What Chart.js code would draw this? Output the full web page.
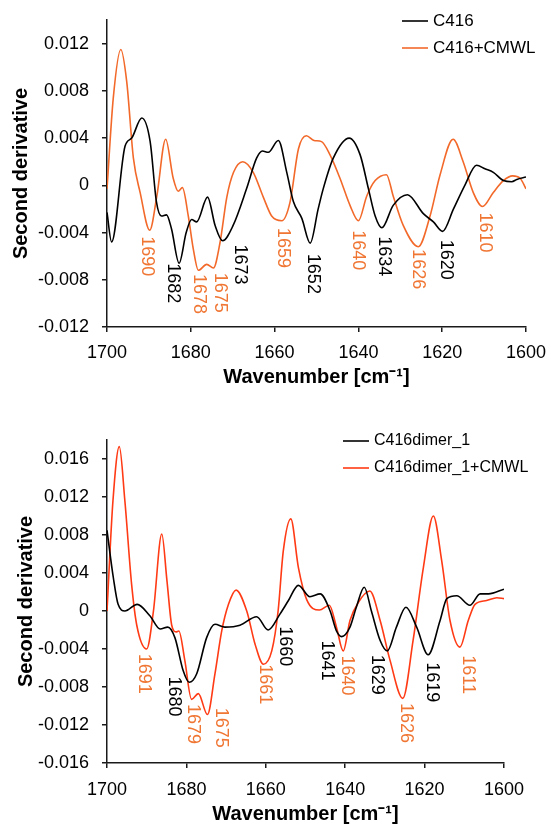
<!DOCTYPE html>
<html>
<head>
	<title>Second derivative</title>
	<meta charset="utf-8"/>
	<script src="https://cdn.jsdelivr.net/npm/chart.js"></script>
	<style>
		body { margin: 0; overflow: hidden; background: #fff; }
		canvas { position: absolute; left: 0; }
	</style>
</head>
<body>
	<canvas id="topChart" width="551" height="400" style="top:0px"></canvas>
	<canvas id="bottomChart" width="551" height="416" style="top:410px"></canvas>

<script>
// ---- data ----
var xTicks = [1700, 1680, 1660, 1640, 1620, 1600];
var topYTicks = [-0.012, -0.008, -0.004, 0, 0.004, 0.008, 0.012];
var bottomYTicks = [-0.016, -0.012, -0.008, -0.004, 0, 0.004, 0.008, 0.012, 0.016];

var topLabels = ['C416', 'C416+CMWL'];
var bottomLabels = ['C416dimer_1', 'C416dimer_1+CMWL'];

var c416Wn = [1700, 1698.9, 1695.7, 1694.1, 1691.7, 1689.7, 1688.2, 1687.0, 1685.8, 1684.6, 1682.8, 1681.1, 1679.8, 1678.6, 1676.0, 1674.2, 1672.4, 1669.9, 1666.7, 1664.3, 1662.9, 1661.5, 1659.1, 1657.1, 1655.5, 1653.5, 1651.5, 1649.6, 1648.4, 1646.0, 1642.2, 1639.6, 1637.6, 1636.0, 1634.4, 1631.7, 1628.3, 1624.5, 1622.1, 1619.9, 1617.3, 1614.6, 1611.8, 1609.8, 1607.8, 1605.4, 1603.4, 1602.2, 1600];
var c416Val = [-0.0023, -0.0048, 0.0033, 0.0040, 0.0057, 0.0037, -0.0014, -0.0026, -0.0025, -0.0037, -0.0066, -0.0040, -0.0029, -0.0031, -0.0010, -0.0034, -0.0047, -0.0034, -0.0003, 0.0023, 0.0029, 0.0028, 0.0038, 0.0011, -0.0014, -0.0028, -0.0049, -0.0020, -0.0003, 0.0023, 0.0040, 0.0026, -0.0003, -0.0026, -0.0036, -0.0017, -0.0008, -0.0024, -0.0031, -0.0039, -0.0020, 0.0000, 0.0017, 0.0014, 0.0011, 0.0004, 0.0003, 0.0005, 0.0007];

var c416CmwlWn = [1700, 1698.5, 1696.7, 1695.3, 1693.7, 1692.1, 1689.8, 1688.1, 1686.0, 1684.2, 1683.0, 1682.0, 1680.6, 1679.4, 1678.2, 1676.2, 1674.6, 1673.0, 1671.4, 1669.8, 1667.6, 1665.1, 1662.7, 1660.7, 1658.3, 1656.3, 1654.3, 1652.4, 1650.6, 1648.8, 1646.8, 1644.4, 1642.0, 1640.0, 1638.0, 1636.0, 1633.3, 1631.7, 1629.3, 1625.7, 1622.9, 1620.5, 1617.4, 1615.0, 1612.6, 1610.4, 1607.8, 1605.4, 1603.2, 1601.4, 1600];
var c416CmwlVal = [-0.0003, 0.0074, 0.0115, 0.0088, 0.0023, -0.0006, -0.0038, -0.0009, 0.0039, 0.0006, -0.0005, -0.0002, -0.0026, -0.0054, -0.0072, -0.0067, -0.0070, -0.0048, -0.0010, 0.0011, 0.0020, 0.0011, -0.0010, -0.0026, -0.0030, -0.0014, 0.0031, 0.0042, 0.0038, 0.0037, 0.0026, 0.0006, -0.0017, -0.0030, -0.0009, 0.0004, 0.0009, -0.0009, -0.0034, -0.0052, -0.0026, 0.0009, 0.0039, 0.0020, -0.0006, -0.0018, -0.0006, 0.0004, 0.0008, 0.0006, -0.0003];

var dimerWn = [1700, 1698.4, 1697.2, 1695.5, 1692.4, 1689.2, 1686.6, 1684.7, 1682.9, 1680.8, 1679.3, 1677.4, 1674.9, 1672.8, 1670.3, 1666.5, 1662.3, 1659.4, 1656.4, 1654.3, 1651.8, 1648.9, 1646.3, 1643.8, 1642.2, 1640.9, 1638.8, 1637.2, 1635.2, 1633.4, 1631.2, 1629.4, 1627.1, 1624.7, 1622.0, 1619.1, 1616.1, 1614.4, 1611.9, 1608.6, 1606.0, 1603.9, 1600];
var dimerVal = [0.0085, 0.0035, 0.0007, 0.0000, 0.0007, -0.0005, -0.0019, -0.0017, -0.0028, -0.0063, -0.0075, -0.0066, -0.0028, -0.0014, -0.0017, -0.0015, -0.0006, -0.0020, -0.0003, 0.0011, 0.0027, 0.0015, 0.0018, 0.0000, -0.0021, -0.0027, -0.0017, 0.0004, 0.0025, 0.0000, -0.0031, -0.0042, -0.0017, 0.0004, -0.0017, -0.0046, -0.0010, 0.0013, 0.0016, 0.0006, 0.0018, 0.0018, 0.0023];

var dimerCmwlWn = [1700, 1698.5, 1696.9, 1695.5, 1693.8, 1692.5, 1690.0, 1688.3, 1686.2, 1684.9, 1683.7, 1682.6, 1681.9, 1680.4, 1678.7, 1677.0, 1674.7, 1672.8, 1671.1, 1669.4, 1667.5, 1664.8, 1662.7, 1660.6, 1658.5, 1656.9, 1655.6, 1653.7, 1651.8, 1649.7, 1646.5, 1644.0, 1642.2, 1640.5, 1638.8, 1636.7, 1633.8, 1631.2, 1628.7, 1625.5, 1622.9, 1620.3, 1617.8, 1615.7, 1613.6, 1611.1, 1609.0, 1607.3, 1604.4, 1601.8, 1600];
var dimerCmwlVal = [0.0000, 0.0116, 0.0173, 0.0116, 0.0028, -0.0015, -0.0040, 0.0000, 0.0081, 0.0032, -0.0015, -0.0022, -0.0021, -0.0052, -0.0093, -0.0087, -0.0109, -0.0066, -0.0021, 0.0007, 0.0022, 0.0000, -0.0035, -0.0056, -0.0042, 0.0000, 0.0063, 0.0097, 0.0046, 0.0012, 0.0001, 0.0006, -0.0017, -0.0042, -0.0010, 0.0009, 0.0021, -0.0010, -0.0052, -0.0092, -0.0031, 0.0046, 0.0100, 0.0053, -0.0010, -0.0038, -0.0010, 0.0007, 0.0011, 0.0014, 0.0013];

// peak labels: text, where it sits (wavenumber, value at label centre), which series
var topPeakText = ['1690', '1682', '1678', '1675', '1673', '1659', '1652', '1640', '1634', '1626', '1620', '1610'];
var topPeakWn = [1690.5, 1684.2, 1678.0, 1673.0, 1668.3, 1658.0, 1650.9, 1640.1, 1633.9, 1625.8, 1619.1, 1609.8];
var topPeakVal = [-0.0060, -0.0083, -0.0092, -0.0091, -0.0067, -0.0053, -0.0075, -0.0055, -0.0060, -0.0071, -0.0063, -0.0040];
var topPeakSeries = [1, 0, 1, 1, 0, 1, 0, 1, 0, 1, 0, 1];

var bottomPeakText = ['1691', '1680', '1679', '1675', '1661', '1660', '1641', '1640', '1629', '1626', '1619', '1611'];
var bottomPeakWn = [1690.6, 1683.1, 1678.3, 1671.3, 1660.2, 1655.2, 1644.7, 1639.6, 1631.9, 1624.7, 1618.2, 1609.1];
var bottomPeakVal = [-0.0066, -0.0090, -0.0119, -0.0123, -0.0077, -0.0037, -0.0052, -0.0068, -0.0067, -0.0118, -0.0075, -0.0067];
var bottomPeakSeries = [1, 0, 1, 1, 1, 0, 0, 1, 0, 1, 0, 1];

var FONT = '"Liberation Sans", Arial, sans-serif';
var AXIS = '#1a1a1a';
var LABEL_ORANGE = '#f07634';

Chart.defaults.font.family = FONT;
Chart.defaults.color = '#000';

function pts(wn, val) {
	return wn.map(function (w, i) { return { x: w, y: val[i] }; });
}

function peakPlugin(text, wn, val, series) {
	return {
		id: 'peakLabels',
		afterDatasetsDraw: function (chart) {
			var ctx = chart.ctx;
			var xs = chart.scales.x, ys = chart.scales.y;
			ctx.save();
			ctx.font = '18px ' + FONT;
			ctx.textAlign = 'center';
			ctx.textBaseline = 'middle';
			for (var i = 0; i < text.length; i++) {
				ctx.save();
				ctx.translate(xs.getPixelForValue(wn[i]), ys.getPixelForValue(val[i]));
				ctx.rotate(Math.PI / 2);
				ctx.fillStyle = series[i] ? LABEL_ORANGE : '#000';
				ctx.fillText(text[i], 0, 0);
				ctx.restore();
			}
			ctx.restore();
		}
	};
}

function legendPlugin(x, y, size) {
	return {
		id: 'miniLegend',
		afterDraw: function (chart) {
			var ctx = chart.ctx;
			ctx.save();
			ctx.font = size + 'px ' + FONT;
			ctx.textBaseline = 'middle';
			chart.data.datasets.forEach(function (ds, i) {
				var yy = y + i * 27;
				ctx.strokeStyle = ds.borderColor;
				ctx.lineWidth = 1.6;
				ctx.beginPath();
				ctx.moveTo(x, yy);
				ctx.lineTo(x + 26, yy);
				ctx.stroke();
				ctx.fillStyle = '#000';
				ctx.fillText(ds.label, x + 31, yy);
			});
			ctx.restore();
		}
	};
}

function makeChart(id, o) {
	return new Chart(document.getElementById(id), {
		type: 'line',
		data: {
			datasets: o.series.map(function (s) {
				return {
					label: s.label,
					data: s.data,
					borderColor: s.color,
					borderWidth: 1.6,
					pointRadius: 0,
					fill: false,
					cubicInterpolationMode: 'monotone'
				};
			})
		},
		options: {
			responsive: false,
			animation: false,
			layout: { padding: o.padding },
			plugins: { legend: { display: false }, tooltip: { enabled: false } },
			scales: {
				x: {
					type: 'linear',
					min: 1600,
					max: 1700,
					reverse: true,
					afterBuildTicks: function (s) { s.ticks = xTicks.map(function (v) { return { value: v }; }); },
					afterFit: function (s) { s.height = o.xHeight; s.paddingLeft = 0; s.paddingRight = 0; },
					ticks: {
						font: { size: 18 }, color: '#000', padding: o.xTickPad, maxRotation: 0, autoSkip: false,
						callback: function (v) { return String(v); }
					},
					grid: { drawOnChartArea: false, drawTicks: true, tickLength: 5, color: AXIS, lineWidth: 1.5 },
					border: { display: true, color: AXIS, width: 1.5 },
					title: { display: true, text: 'Wavenumber [cm\u207B\u00B9]', font: { size: 20, weight: 'bold' }, color: '#000', padding: { top: 0, bottom: o.xTitlePad } }
				},
				y: {
					min: o.yMin,
					max: o.yMax,
					afterBuildTicks: function (s) { s.ticks = o.yTicks.map(function (v) { return { value: v }; }); },
					afterFit: function (s) { s.width = 107; s.paddingTop = 0; s.paddingBottom = 0; },
					ticks: {
						font: { size: 18 }, color: '#000', padding: 13,
						callback: function (v) { return v === 0 ? '0' : v.toFixed(3); }
					},
					grid: { drawOnChartArea: false, drawTicks: true, tickLength: 5, color: AXIS, lineWidth: 1.5 },
					border: { display: true, color: AXIS, width: 1.5 },
					title: { display: true, text: 'Second derivative', font: { size: 20, weight: 'bold' }, color: '#000', padding: { top: o.yTitlePad, bottom: 0 } }
				}
			}
		},
		plugins: [o.peaks, o.legend]
	});
}

makeChart('topChart', {
	series: [
		{ label: topLabels[0], data: pts(c416Wn, c416Val), color: '#000000' },
		{ label: topLabels[1], data: pts(c416CmwlWn, c416CmwlVal), color: '#f2692a' }
	],
	yMin: -0.012, yMax: 0.014, yTicks: topYTicks,
	padding: { left: 0, top: 20, right: 25, bottom: 0 },
	xHeight: 73, xTickPad: 10, xTitlePad: 11, yTitlePad: 9,
	peaks: peakPlugin(topPeakText, topPeakWn, topPeakVal, topPeakSeries),
	legend: legendPlugin(402, 21, 17)
});

makeChart('bottomChart', {
	series: [
		{ label: bottomLabels[0], data: pts(dimerWn, dimerVal), color: '#000000' },
		{ label: bottomLabels[1], data: pts(dimerCmwlWn, dimerCmwlVal), color: '#ff3a14' }
	],
	yMin: -0.016, yMax: 0.018, yTicks: bottomYTicks,
	padding: { left: 0, top: 30, right: 47, bottom: 0 },
	xHeight: 63, xTickPad: 11, xTitlePad: 0, yTitlePad: 14,
	peaks: peakPlugin(bottomPeakText, bottomPeakWn, bottomPeakVal, bottomPeakSeries),
	legend: legendPlugin(343, 31, 16)
});
</script>
</body>
</html>
